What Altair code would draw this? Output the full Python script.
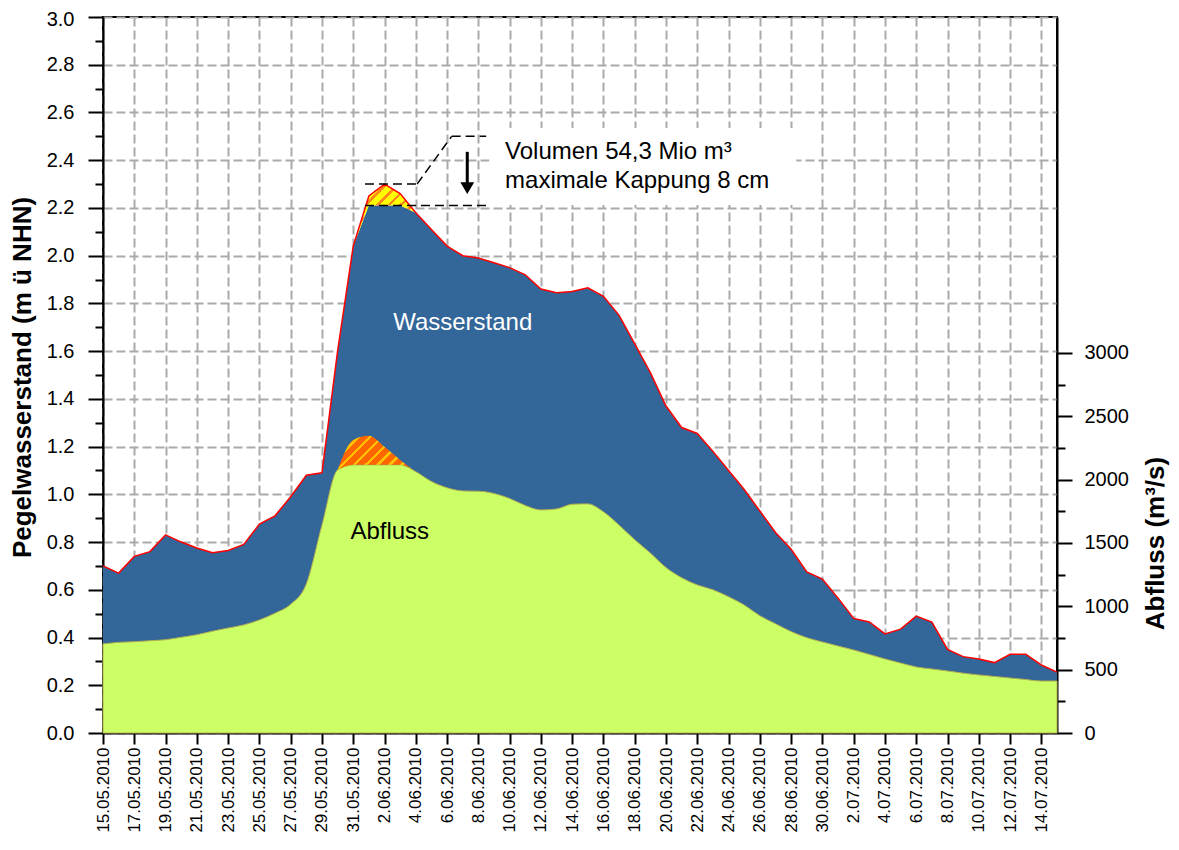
import altair as alt
import pandas as pd

FONT = "Liberation Sans"

# ---------------- data ----------------
dates = pd.date_range("2010-05-15", "2010-07-15", freq="D")

# Pegelwasserstand (m ü NHN), original
wasserstand = [0.70, 0.67, 0.74, 0.76, 0.83, 0.80, 0.775, 0.755, 0.765, 0.79,
               0.875, 0.91, 0.99, 1.08, 1.09, 1.60, 2.04, 2.25, 2.30, 2.26,
               2.18, 2.11, 2.04, 2.00, 1.99, 1.97, 1.95, 1.92, 1.86, 1.845,
               1.85, 1.865, 1.83, 1.75, 1.63, 1.51, 1.37, 1.28, 1.255, 1.18,
               1.10, 1.02, 0.93, 0.84, 0.77, 0.675, 0.645, 0.565, 0.48, 0.465,
               0.415, 0.435, 0.49, 0.465, 0.35, 0.32, 0.31, 0.295, 0.33, 0.33,
               0.285, 0.255]
# Pegelwasserstand gekappt
wasserstand_gekappt = [0.70, 0.67, 0.74, 0.76, 0.83, 0.80, 0.775, 0.755, 0.765, 0.79,
                       0.875, 0.91, 0.99, 1.08, 1.09, 1.60, 2.04, 2.21, 2.21, 2.21,
                       2.18, 2.11, 2.04, 2.00, 1.99, 1.97, 1.95, 1.92, 1.86, 1.845,
                       1.85, 1.865, 1.83, 1.75, 1.63, 1.51, 1.37, 1.28, 1.255, 1.18,
                       1.10, 1.02, 0.93, 0.84, 0.77, 0.675, 0.645, 0.565, 0.48, 0.465,
                       0.415, 0.435, 0.49, 0.465, 0.35, 0.32, 0.31, 0.295, 0.33, 0.33,
                       0.285, 0.255]
# Abfluss (m³/s), original
abfluss = [703, 715, 720, 728, 736, 755, 775, 803, 828, 853,
           892, 945, 1015, 1175, 1640, 2076, 2313, 2345, 2258, 2155,
           2062, 1985, 1935, 1910, 1908, 1890, 1850, 1795, 1760, 1768,
           1805, 1808, 1745, 1640, 1525, 1420, 1305, 1225, 1168, 1130,
           1075, 1010, 925, 862, 800, 752, 718, 686, 655, 620,
           584, 552, 521, 505, 489, 472, 458, 446, 434, 422,
           410, 410]
# Abfluss gekappt
abfluss_gekappt = [703, 715, 720, 728, 736, 755, 775, 803, 828, 853,
                   892, 945, 1015, 1175, 1640, 2076, 2116, 2116, 2116, 2116,
                   2062, 1985, 1935, 1910, 1908, 1890, 1850, 1795, 1760, 1768,
                   1805, 1808, 1745, 1640, 1525, 1420, 1305, 1225, 1168, 1130,
                   1075, 1010, 925, 862, 800, 752, 718, 686, 655, 620,
                   584, 552, 521, 505, 489, 472, 458, 446, 434, 422,
                   410, 410]

left_ticks = [0.0, 0.2, 0.4, 0.6, 0.8, 1.0, 1.2, 1.4, 1.6, 1.8, 2.0, 2.2, 2.4, 2.6, 2.8, 3.0]
left_minor = [0.1, 0.3, 0.5, 0.7, 0.9, 1.1, 1.3, 1.5, 1.7, 1.9, 2.1, 2.3, 2.5, 2.7, 2.9]
right_ticks = [0, 500, 1000, 1500, 2000, 2500, 3000]
right_minor = [250, 750, 1250, 1750, 2250, 2750]
x_tick_dates = pd.date_range("2010-05-15", "2010-07-14", freq="2D")

# annotation elements (data coordinates)
seg_x1 = ["2010-05-31T18:00", "2010-06-04T02:00", "2010-06-06T07:00", "2010-05-31T18:00"]
seg_x2 = ["2010-06-04T02:00", "2010-06-06T07:00", "2010-06-08T12:00", "2010-06-08T15:00"]
seg_y1 = [2.30, 2.30, 2.50, 2.21]
seg_y2 = [2.30, 2.50, 2.50, 2.21]
box_x = ["2010-06-08T17:00"]
box_x2 = ["2010-06-28T08:00"]
box_y = [2.212]
box_y2 = [2.535]
arrow_x = ["2010-06-07T07:00"]
arrow_top = [2.435]
arrow_bottom = [2.30]
arrow_head = [2.283]
note_x = ["2010-06-09T17:00", "2010-06-09T17:00"]
note_y = [2.433, 2.313]
note_text = ["Volumen 54,3 Mio m³", "maximale Kappung 8 cm"]
label_x = ["2010-06-07T00:00", "2010-06-02T08:00"]
label_y = [1.718, 0.842]
label_text = ["Wasserstand", "Abfluss"]

df = pd.DataFrame({"date": dates, "W": wasserstand, "Wk": wasserstand_gekappt,
                   "Q": abfluss, "Qk": abfluss_gekappt})
peak_w = df.iloc[16:21]
peak_q = df.iloc[15:21]
seg_df = pd.DataFrame({"x1": seg_x1, "x2": seg_x2, "y1": seg_y1, "y2": seg_y2})
box_df = pd.DataFrame({"x1": box_x, "x2": box_x2, "y1": box_y, "y2": box_y2})
arrow_df = pd.DataFrame({"x": arrow_x, "top": arrow_top, "bottom": arrow_bottom, "head": arrow_head})
note_df = pd.DataFrame({"x": note_x, "y": note_y, "t": note_text})
lab_df = pd.DataFrame({"x": label_x, "y": label_y, "t": label_text})


# ---------------- styling helpers ----------------
def hatch(base, stripe, n, frac, x2, y2):
    stops = []
    for i in range(n):
        a = i / n
        b = (i + 1 - frac) / n
        c = (i + 1) / n
        stops += [alt.GradientStop(offset=a, color=base),
                  alt.GradientStop(offset=b, color=base),
                  alt.GradientStop(offset=b, color=stripe),
                  alt.GradientStop(offset=c, color=stripe)]
    return alt.LinearGradient(gradient="linear", stops=stops, x1=0, y1=0, x2=x2, y2=y2)


W_DOM = [0, 3.0]
Q_DOM = [0, 5650]
W_SC = alt.Scale(domain=W_DOM, nice=False, zero=False)
Q_SC = alt.Scale(domain=Q_DOM, nice=False, zero=False)

GRID_COLOR = "#aaaaaa"

x_vals = [alt.DateTime(year=t.year, month=t.month, date=t.day) for t in x_tick_dates]
X_AX = alt.Axis(values=x_vals, format="%-d.%m.%Y", labelAngle=270, labelFlush=False,
                labelOverlap=False, labelFont=FONT, labelFontSize=17, labelColor="black",
                tickSize=11, tickWidth=2, tickColor="black", domainColor="black",
                domainWidth=2, labelPadding=3, grid=True, gridColor=GRID_COLOR,
                gridDash=[9, 4], gridWidth=2, title=None)
X_SC = alt.Scale(domain=[alt.DateTime(year=2010, month=5, date=15),
                         alt.DateTime(year=2010, month=7, date=15)])


def X(field):
    return alt.X(field, type="temporal", scale=X_SC, axis=X_AX)


AX_LEFT = alt.Axis(orient="left", values=left_ticks, format=".1f", tickSize=15, tickWidth=2,
                   tickColor="black", domainColor="black", domainWidth=2,
                   labelFont=FONT, labelFontSize=20, labelColor="black", labelPadding=14,
                   labelFlush=False, labelOverlap=False,
                   labelOffset={"condition": {"test": "datum.value >= 2.95", "value": 2},
                                "value": 0},
                   grid=True, gridColor=GRID_COLOR, gridDash=[9, 4], gridWidth=2,
                   title="Pegelwasserstand (m ü NHN)", titleFont=FONT, titleFontSize=26,
                   titleFontWeight="bold", titleColor="black", titleAngle=270,
                   titleX=-81, titleY=360, titleAlign="center", titleBaseline="middle")
AX_LEFT_MINOR = alt.Axis(orient="left", values=left_minor, labels=False, domain=False,
                         grid=False, tickSize=8, tickWidth=2, tickColor="black", title=None)
AX_RIGHT = alt.Axis(orient="right", values=right_ticks, format="d", tickSize=15, tickWidth=2,
                    tickColor="black", domainColor="black", domainWidth=2,
                    labelFont=FONT, labelFontSize=20, labelColor="black", labelPadding=12,
                    labelFlush=False, labelOverlap=False, grid=False,
                    title="Abfluss (m³/s)", titleFont=FONT, titleFontSize=26,
                    titleFontWeight="bold", titleColor="black", titleAngle=270,
                    titleX=98, titleY=526, titleAlign="center", titleBaseline="middle")
AX_RIGHT_MINOR = alt.Axis(orient="right", values=right_minor, labels=False, domain=False,
                          grid=False, tickSize=8, tickWidth=2, tickColor="black", title=None)


def YW(field, axis=None):
    return alt.Y(field, type="quantitative", scale=W_SC, axis=axis)


def YQ(field, axis=None):
    return alt.Y(field, type="quantitative", scale=Q_SC, axis=axis)


# ---------------- layers ----------------
blue = alt.Chart(df).mark_area(color="#336699").encode(x=X("date"), y=YW("Wk", AX_LEFT))
left_minor_l = alt.Chart(df).mark_point(opacity=0).encode(x=X("date"), y=YW("W", AX_LEFT_MINOR))
yellow = alt.Chart(peak_w).mark_area(
    fill=hatch("#ffff00", "#ff8c1a", 16, 0.3, 1.5, 1.5)
).encode(x=X("date"), y=YW("W"), y2="Wk")
red = alt.Chart(df).mark_line(color="#ff0000", strokeWidth=1.5).encode(x=X("date"), y=YW("W"))
green = alt.Chart(df).mark_area(color="#ccff66", interpolate="monotone", stroke="#b5b050",
                                strokeWidth=1).encode(x=X("date"), y=YQ("Qk", AX_RIGHT))
right_minor_l = alt.Chart(df).mark_point(opacity=0).encode(x=X("date"), y=YQ("Q", AX_RIGHT_MINOR))
orange = alt.Chart(peak_q).mark_area(
    fill=hatch("#ff6600", "#ffc000", 12, 0.3, 1.5, 0.69), interpolate="monotone"
).encode(x=X("date"), y=YQ("Q"), y2="Qk")
box = alt.Chart(box_df).mark_rect(color="white").encode(
    x=X("x1"), x2="x2", y=YW("y1"), y2="y2")
segs = alt.Chart(seg_df).mark_rule(color="black", strokeWidth=1.5, strokeDash=[9, 5]).encode(
    x=X("x1"), x2="x2", y=YW("y1"), y2="y2")
shaft = alt.Chart(arrow_df).mark_rule(color="black", strokeWidth=3).encode(
    x=X("x"), y=YW("top"), y2="bottom")
head = alt.Chart(arrow_df).mark_point(shape="triangle-down", filled=True, color="black",
                                      size=190, opacity=1).encode(x=X("x"), y=YW("head"))
notes = alt.Chart(note_df).mark_text(font=FONT, fontSize=24, color="black", align="left",
                                     baseline="middle").encode(x=X("x"), y=YW("y"), text="t")
labs = alt.Chart(lab_df).mark_text(font=FONT, fontSize=24, align="center",
                                   baseline="middle").encode(
    x=X("x"), y=YW("y"), text="t",
    color=alt.Color("t:N", scale=alt.Scale(domain=label_text, range=["white", "black"]),
                    legend=None))

chart = alt.layer(
    blue, left_minor_l, yellow, red, green, right_minor_l, orange, box, segs, shaft, head,
    notes, labs
).resolve_scale(y="independent").properties(
    width=954, height=716,
    autosize=alt.AutoSizeParams(type="none"),
    padding={"left": 95, "top": 9, "right": 114, "bottom": 108},
).configure_view(stroke="black", strokeWidth=2)

chart.save("out.html", embed_options={"renderer": "svg", "actions": False})
